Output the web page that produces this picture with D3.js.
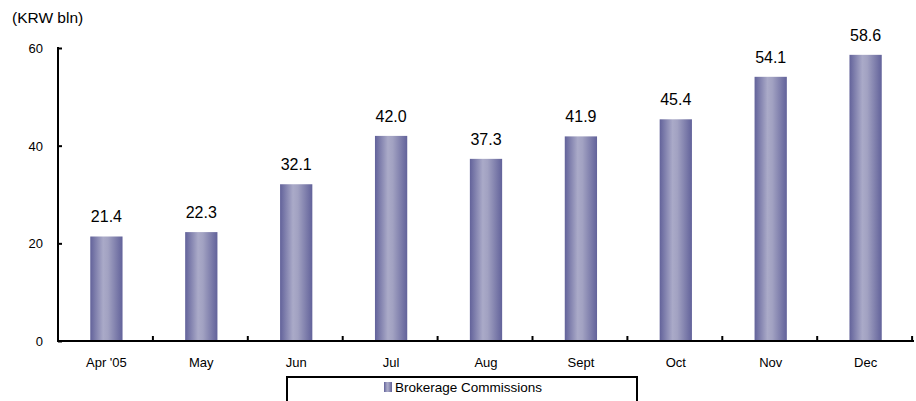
<!DOCTYPE html>
<html>
<head>
<meta charset="utf-8">
<script src="https://cdn.jsdelivr.net/npm/d3@7"></script>
<style>
  body { margin: 0; background: #fff; }
  text { font-family: "Liberation Sans", Arial, sans-serif; fill: #000; }
</style>
</head>
<body>
<svg id="chart"></svg>
<script>
const months = ['Apr \'05', 'May', 'Jun', 'Jul', 'Aug', 'Sept', 'Oct', 'Nov', 'Dec']
const commissions = [21.4, 22.3, 32.1, 42.0, 37.3, 41.9, 45.4, 54.1, 58.6]
const yTicks = [0, 20, 40, 60]
const seriesName = 'Brokerage Commissions'
const unitLabel = '(KRW bln)'

const width = 916
const height = 401
const plotLeft = 58, plotRight = 914, plotTop = 48, plotBottom = 341

const svg = d3.select('svg#chart')
  .attr('width', width)
  .attr('height', height)

// bar shading: dark edges, light middle
const grad = svg.append('defs').append('linearGradient')
  .attr('id', 'barGrad')
  .attr('x1', '0%').attr('x2', '100%').attr('y1', '0%').attr('y2', '0%')
grad.append('stop').attr('offset', '0%').attr('stop-color', '#62629a')
grad.append('stop').attr('offset', '40%').attr('stop-color', '#aaaac8')
grad.append('stop').attr('offset', '55%').attr('stop-color', '#a2a2c2')
grad.append('stop').attr('offset', '100%').attr('stop-color', '#62629a')

const x = d3.scaleBand()
  .domain(months)
  .range([plotLeft, plotRight])
  .paddingInner(0.66)
  .paddingOuter(0.34)

const y = d3.scaleLinear()
  .domain([0, 60])
  .range([plotBottom, plotTop])

const data = months.map((m, i) => ({ month: m, value: commissions[i] }))

svg.append('g').selectAll('rect')
  .data(data)
  .enter().append('rect')
  .attr('x', d => x(d.month))
  .attr('y', d => y(d.value))
  .attr('width', x.bandwidth())
  .attr('height', d => y(0) - y(d.value))
  .attr('fill', 'url(#barGrad)')

svg.append('g').selectAll('text')
  .data(data)
  .enter().append('text')
  .attr('x', d => x(d.month) + x.bandwidth() / 2)
  .attr('y', d => y(d.value) - 14)
  .attr('text-anchor', 'middle')
  .style('font-size', '16px')
  .text(d => d.value.toFixed(1))

// y axis
const yAxis = d3.axisRight(y)
  .tickValues(yTicks)
  .tickSize(4)
  .tickFormat('')
const yg = svg.append('g')
  .attr('transform', 'translate(' + plotLeft + ',0)')
  .call(yAxis)
yg.select('.domain').remove()
yg.selectAll('.tick line').attr('stroke', '#000').attr('stroke-width', 2)
svg.append('line')
  .attr('x1', plotLeft).attr('x2', plotLeft)
  .attr('y1', plotTop - 1).attr('y2', plotBottom + 1)
  .attr('stroke', '#000').attr('stroke-width', 2)

svg.append('g').selectAll('text')
  .data(yTicks)
  .enter().append('text')
  .attr('x', 43)
  .attr('y', d => y(d) + 5)
  .attr('text-anchor', 'end')
  .style('font-size', '13px')
  .text(d => d)

// x axis with boundary ticks
const step = x.step()
const boundaries = d3.range(months.length + 1).map(i => plotLeft + i * step)
svg.append('line')
  .attr('x1', plotLeft - 1).attr('x2', plotRight)
  .attr('y1', plotBottom).attr('y2', plotBottom)
  .attr('stroke', '#000').attr('stroke-width', 2)
svg.append('g').selectAll('line')
  .data(boundaries.slice(1))
  .enter().append('line')
  .attr('x1', d => Math.min(d, plotRight - 1)).attr('x2', d => Math.min(d, plotRight - 1))
  .attr('y1', plotBottom).attr('y2', plotBottom - 5)
  .attr('stroke', '#000').attr('stroke-width', 2)

svg.append('g').selectAll('text')
  .data(months)
  .enter().append('text')
  .attr('x', d => x(d) + x.bandwidth() / 2)
  .attr('y', 367)
  .attr('text-anchor', 'middle')
  .style('font-size', '13px')
  .text(d => d)

svg.append('text')
  .attr('x', 12)
  .attr('y', 23)
  .style('font-size', '15.5px')
  .text(unitLabel)

// legend
const legend = svg.append('g')
svg.append('rect')
  .attr('x', 287).attr('y', 377)
  .attr('width', 350).attr('height', 40)
  .attr('fill', 'none')
  .attr('stroke', '#000').attr('stroke-width', 2)
legend.append('rect')
  .attr('x', 384).attr('y', 382)
  .attr('width', 8).attr('height', 10)
  .attr('fill', 'url(#barGrad)')
legend.append('text')
  .attr('x', 395)
  .attr('y', 392)
  .style('font-size', '13.5px')
  .text(seriesName)
</script>
</body>
</html>
